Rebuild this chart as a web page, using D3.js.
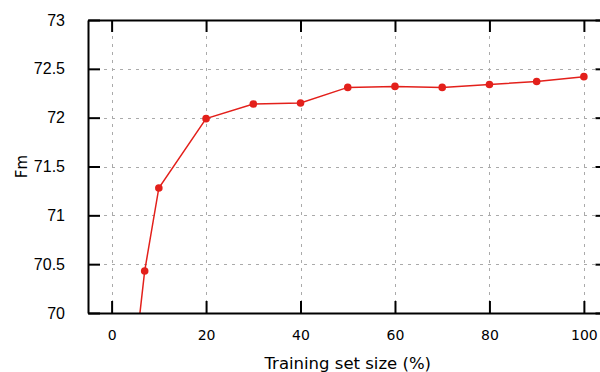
<!DOCTYPE html>
<html>
<head>
<meta charset="utf-8">
<script src="https://cdn.jsdelivr.net/npm/d3@7/dist/d3.min.js"></script>
<style>
  html, body { margin: 0; padding: 0; background: #fff; }
  svg { display: block; }
</style>
</head>
<body>
<svg id="chart" width="600" height="372"></svg>
<script>
// Learning curve: Fm score versus training set size
const trainSize = [5, 7, 10, 20, 30, 40, 50, 60, 70, 80, 90, 100];
const fmScore   = [69.57, 70.43, 71.28, 71.99, 72.14, 72.15, 72.31, 72.32, 72.31, 72.34, 72.37, 72.42];
const xTicks = [0, 20, 40, 60, 80, 100];
const yTicks = [70, 70.5, 71, 71.5, 72, 72.5, 73];

const svg = d3.select("#chart");
const plotLeft = 88, plotRight = 607.5, plotTop = 20, plotBottom = 313;

const x = d3.scaleLinear().domain([-5, 105]).range([plotLeft, plotRight]);
const y = d3.scaleLinear().domain([70, 73]).range([plotBottom, plotTop]);

// dashed grid
const grid = svg.append("g").attr("stroke", "#aaaaaa").attr("stroke-width", 1)
  .attr("stroke-dasharray", "3,5").attr("shape-rendering", "crispEdges");
grid.selectAll("line.v").data(xTicks).join("line").attr("class", "v")
  .attr("x1", d => Math.round(x(d)) + 0.5).attr("x2", d => Math.round(x(d)) + 0.5)
  .attr("y1", plotTop).attr("y2", plotBottom);
grid.selectAll("line.h").data(yTicks.slice(1, -1)).join("line").attr("class", "h")
  .attr("x1", plotLeft).attr("x2", plotRight)
  .attr("y1", d => Math.round(y(d)) + 0.5).attr("y2", d => Math.round(y(d)) + 0.5);

// data line, clipped to the plot frame
svg.append("clipPath").attr("id", "plotclip").append("rect")
  .attr("x", plotLeft).attr("y", plotTop).attr("width", plotRight - plotLeft).attr("height", plotBottom - plotTop);
const pts = trainSize.map((t, i) => [t, fmScore[i]]);
const plot = svg.append("g").attr("clip-path", "url(#plotclip)");
plot.append("path").datum(pts)
  .attr("fill", "none").attr("stroke", "#e3201b").attr("stroke-width", 1.5)
  .attr("d", d3.line().x(d => x(d[0])).y(d => y(d[1])));
plot.selectAll("circle").data(pts).join("circle")
  .attr("cx", d => x(d[0])).attr("cy", d => y(d[1])).attr("r", 3.8)
  .attr("fill", "#e3201b");

// axes with inward ticks on all four sides
const tickLen = 12;
const axisStyle = g => {
  g.selectAll(".domain").attr("stroke", "#000").attr("stroke-width", 2);
  g.selectAll(".tick line").attr("stroke", "#000").attr("stroke-width", 2);
};
svg.append("g").attr("transform", `translate(0,${plotBottom})`)
  .call(d3.axisBottom(x).tickValues(xTicks).tickSizeInner(-tickLen).tickSizeOuter(0).tickPadding(17))
  .call(axisStyle)
  .call(g => g.selectAll("text").attr("font-family", "DejaVu Sans").attr("font-size", 14).attr("fill", "#000"));
svg.append("g").attr("transform", `translate(0,${plotTop})`)
  .call(d3.axisTop(x).tickValues(xTicks).tickSizeInner(-tickLen).tickSizeOuter(0).tickFormat(""))
  .call(axisStyle);
svg.append("g").attr("transform", `translate(${plotLeft},0)`)
  .call(d3.axisLeft(y).tickValues(yTicks).tickSizeInner(-tickLen).tickSizeOuter(0).tickPadding(23).tickFormat(d3.format("")))
  .call(axisStyle)
  .call(g => g.selectAll("text").attr("font-family", "Liberation Sans").attr("font-size", 16).attr("fill", "#000"));
svg.append("g").attr("transform", `translate(${plotRight},0)`)
  .call(d3.axisRight(y).tickValues(yTicks).tickSizeInner(-tickLen).tickSizeOuter(0).tickFormat(""))
  .call(axisStyle);

// axis titles
svg.append("text").attr("x", x(50)).attr("y", 368.5).attr("text-anchor", "middle")
  .attr("font-family", "DejaVu Sans").attr("font-size", 16.5).attr("fill", "#000")
  .text("Training set size (%)");
svg.append("text").attr("transform", `translate(27,${(plotTop + plotBottom) / 2}) rotate(-90)`)
  .attr("text-anchor", "middle").attr("font-family", "DejaVu Sans").attr("font-size", 15).attr("fill", "#000")
  .text("Fm");
</script>
</body>
</html>
